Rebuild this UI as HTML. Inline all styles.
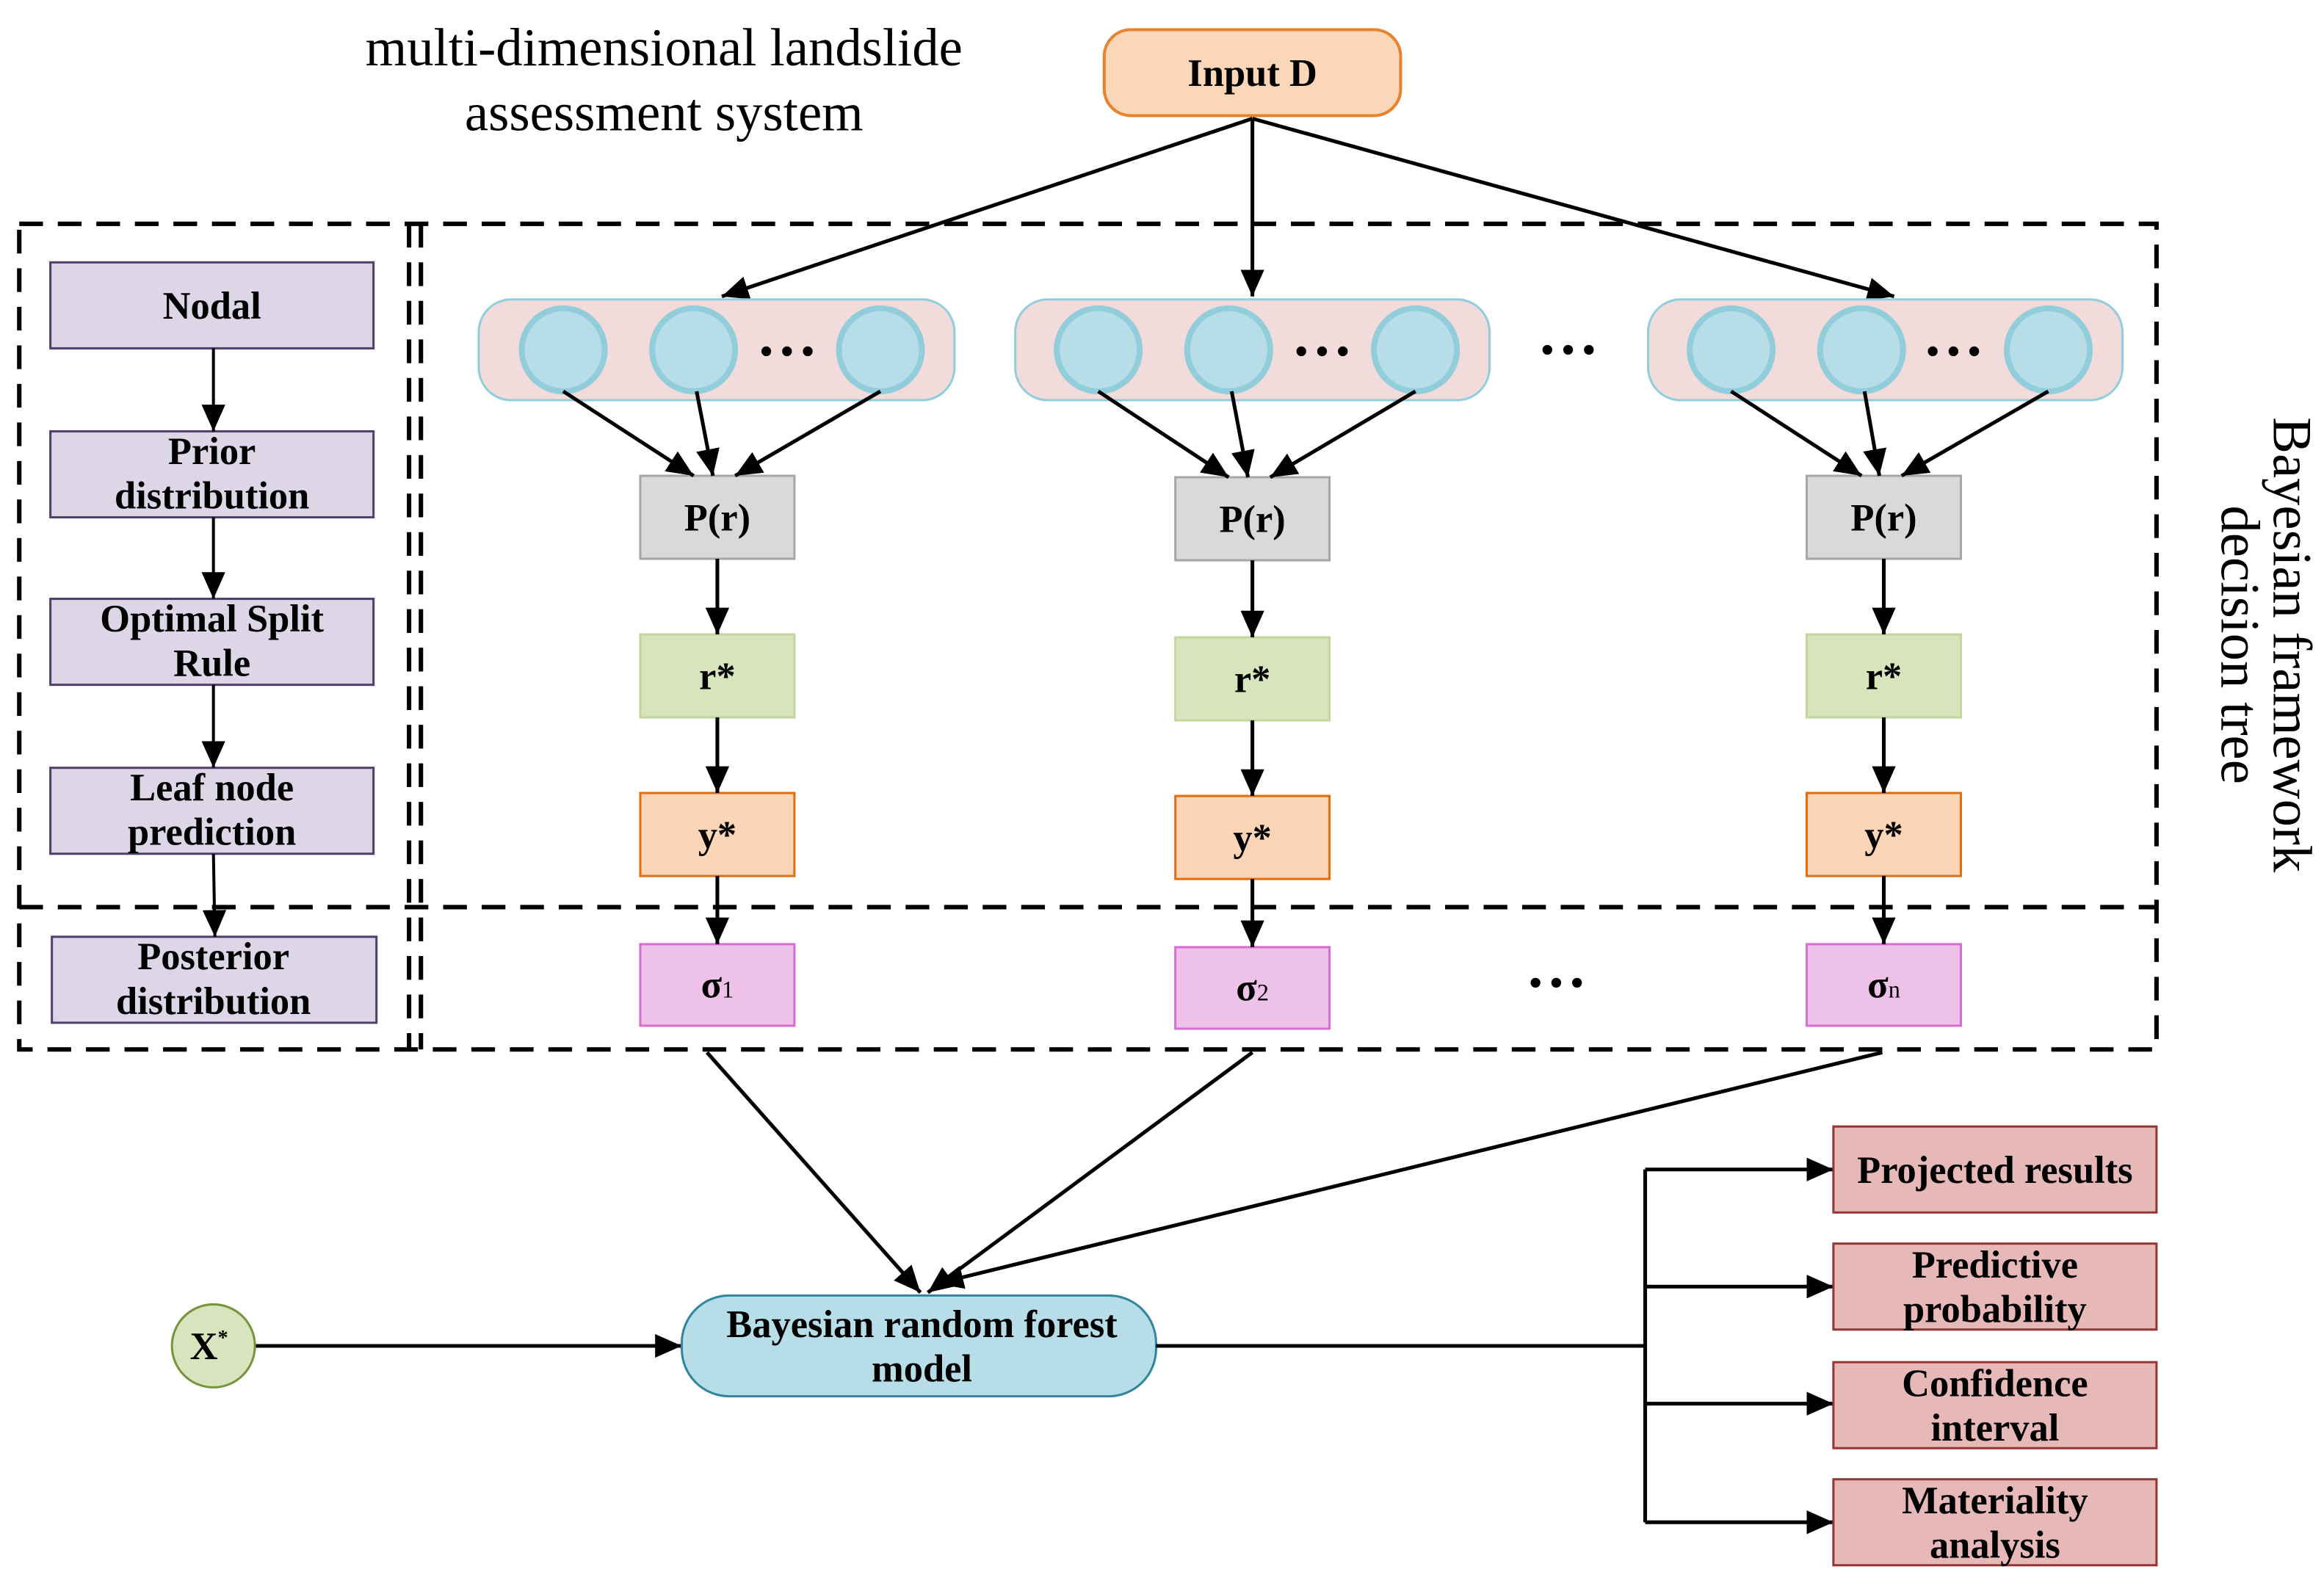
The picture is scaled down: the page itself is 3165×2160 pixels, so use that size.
<!DOCTYPE html>
<html><head><meta charset="utf-8"><style>
html,body{margin:0;padding:0;background:#fff;}
svg{display:block;}
text{font-family:"Liberation Serif",serif;}
.b{font-weight:bold;font-size:26px;text-anchor:middle;}
</style></head><body>
<svg width="3165" height="2160" viewBox="0 0 1568 1070" preserveAspectRatio="none" xmlns="http://www.w3.org/2000/svg">
<defs>
<marker id="a" markerUnits="userSpaceOnUse" markerWidth="20" markerHeight="16" refX="18" refY="8" orient="auto">
<path d="M0,0 L18,8 L0,16 z" fill="#000"/>
</marker>
</defs>
<rect width="1568" height="1070" fill="#fff"/>

<text x="448" y="44" font-size="36" text-anchor="middle">multi-dimensional landslide</text>
<text x="448" y="88" font-size="36" text-anchor="middle">assessment system</text>

<rect x="745" y="20" width="200" height="58" rx="18" fill="#fad7b9" stroke="#e8822f" stroke-width="2"/>
<text class="b" x="845" y="58">Input D</text>

<g stroke="#000" stroke-width="2.5" fill="none" marker-end="url(#a)">
<line x1="845" y1="80" x2="487" y2="200"/>
<line x1="845" y1="80" x2="845" y2="200"/>
<line x1="845" y1="80" x2="1278" y2="200"/>
</g>

<g stroke="#000" stroke-width="3" fill="none" stroke-dasharray="16 10">
<rect x="13" y="151" width="1442" height="557"/>
<line x1="13" y1="612" x2="1455" y2="612"/>
<line x1="276" y1="151" x2="276" y2="708"/>
<line x1="284" y1="151" x2="284" y2="708"/>
</g>

<g fill="#dcd6e6" stroke="#4f3f6b" stroke-width="1.5">
<rect x="34" y="177" width="218" height="58"/>
<rect x="34" y="291" width="218" height="58"/>
<rect x="34" y="404" width="218" height="58"/>
<rect x="34" y="518" width="218" height="58"/>
<rect x="35" y="632" width="219" height="58"/>
</g>
<text class="b" x="143" y="215">Nodal</text>
<text class="b" x="143" y="313">Prior</text>
<text class="b" x="143" y="343">distribution</text>
<text class="b" x="143" y="426">Optimal Split</text>
<text class="b" x="143" y="456">Rule</text>
<text class="b" x="143" y="540">Leaf node</text>
<text class="b" x="143" y="570">prediction</text>
<text class="b" x="144" y="654">Posterior</text>
<text class="b" x="144" y="684">distribution</text>
<g stroke="#000" stroke-width="2" marker-end="url(#a)">
<line x1="144" y1="235" x2="144" y2="291"/>
<line x1="144" y1="349" x2="144" y2="404"/>
<line x1="144" y1="462" x2="144" y2="518"/>
<line x1="144" y1="576" x2="145" y2="632"/>
</g>

<g fill="#f2dcdb" stroke="#92cddc" stroke-width="1.5">
<rect x="323" y="202" width="321" height="68" rx="22"/>
<rect x="685" y="202" width="320" height="68" rx="22"/>
<rect x="1112" y="202" width="320" height="68" rx="22"/>
</g>
<g fill="#b7dde8" stroke="#92cddc" stroke-width="4">
<ellipse cx="380" cy="236" rx="28" ry="28"/>
<ellipse cx="468" cy="236" rx="28" ry="28"/>
<ellipse cx="594" cy="236" rx="28" ry="28"/>
<ellipse cx="741" cy="236" rx="28" ry="28"/>
<ellipse cx="829" cy="236" rx="28" ry="28"/>
<ellipse cx="955" cy="236" rx="28" ry="28"/>
<ellipse cx="1168" cy="236" rx="28" ry="28"/>
<ellipse cx="1256" cy="236" rx="28" ry="28"/>
<ellipse cx="1382" cy="236" rx="28" ry="28"/>
</g>
<g fill="#000">
<circle cx="517" cy="237" r="3.3"/><circle cx="531" cy="237" r="3.3"/><circle cx="545" cy="237" r="3.3"/>
<circle cx="878" cy="237" r="3.3"/><circle cx="892" cy="237" r="3.3"/><circle cx="906" cy="237" r="3.3"/>
<circle cx="1304" cy="237" r="3.3"/><circle cx="1318" cy="237" r="3.3"/><circle cx="1332" cy="237" r="3.3"/>
<circle cx="1044" cy="236" r="3.3"/><circle cx="1058" cy="236" r="3.3"/><circle cx="1072" cy="236" r="3.3"/>
<circle cx="1036" cy="663" r="3.3"/><circle cx="1050" cy="663" r="3.3"/><circle cx="1064" cy="663" r="3.3"/>
</g>

<g stroke-width="1.5">
<rect x="432" y="321" width="104" height="56" fill="#d9d9d9" stroke="#a6a6a6"/>
<rect x="793" y="322" width="104" height="56" fill="#d9d9d9" stroke="#a6a6a6"/>
<rect x="1219" y="321" width="104" height="56" fill="#d9d9d9" stroke="#a6a6a6"/>
<rect x="432" y="428" width="104" height="56" fill="#d8e4bc" stroke="#c3d69b"/>
<rect x="793" y="430" width="104" height="56" fill="#d8e4bc" stroke="#c3d69b"/>
<rect x="1219" y="428" width="104" height="56" fill="#d8e4bc" stroke="#c3d69b"/>
<rect x="432" y="535" width="104" height="56" fill="#fbd5b5" stroke="#e46c0a"/>
<rect x="793" y="537" width="104" height="56" fill="#fbd5b5" stroke="#e46c0a"/>
<rect x="1219" y="535" width="104" height="56" fill="#fbd5b5" stroke="#e46c0a"/>
<rect x="432" y="637" width="104" height="55" fill="#eec2e8" stroke="#d86ccf"/>
<rect x="793" y="639" width="104" height="55" fill="#eec2e8" stroke="#d86ccf"/>
<rect x="1219" y="637" width="104" height="55" fill="#eec2e8" stroke="#d86ccf"/>
</g>
<text class="b" x="484" y="358">P(r)</text>
<text class="b" x="845" y="359">P(r)</text>
<text class="b" x="1271" y="358">P(r)</text>
<text class="b" x="484" y="465">r*</text>
<text class="b" x="845" y="467">r*</text>
<text class="b" x="1271" y="465">r*</text>
<text class="b" x="484" y="572">y*</text>
<text class="b" x="845" y="574">y*</text>
<text class="b" x="1271" y="572">y*</text>
<text class="b" x="484" y="673">σ<tspan font-size="16" font-weight="normal">1</tspan></text>
<text class="b" x="845" y="675">σ<tspan font-size="16" font-weight="normal">2</tspan></text>
<text class="b" x="1271" y="673">σ<tspan font-size="16" font-weight="normal">n</tspan></text>

<g stroke="#000" stroke-width="2.5" marker-end="url(#a)">
<line x1="380" y1="264" x2="468" y2="321"/>
<line x1="470" y1="264" x2="481" y2="321"/>
<line x1="594" y1="264" x2="496" y2="321"/>
<line x1="741" y1="264" x2="829" y2="322"/>
<line x1="831" y1="264" x2="842" y2="322"/>
<line x1="955" y1="264" x2="857" y2="322"/>
<line x1="1168" y1="264" x2="1256" y2="321"/>
<line x1="1258" y1="264" x2="1268" y2="321"/>
<line x1="1382" y1="264" x2="1283" y2="321"/>
<line x1="484" y1="377" x2="484" y2="428"/>
<line x1="845" y1="378" x2="845" y2="430"/>
<line x1="1271" y1="377" x2="1271" y2="428"/>
<line x1="484" y1="484" x2="484" y2="535"/>
<line x1="845" y1="486" x2="845" y2="537"/>
<line x1="1271" y1="484" x2="1271" y2="535"/>
<line x1="484" y1="591" x2="484" y2="637"/>
<line x1="845" y1="593" x2="845" y2="639"/>
<line x1="1271" y1="591" x2="1271" y2="637"/>
<line x1="477" y1="710" x2="621" y2="872"/>
<line x1="845" y1="710" x2="626" y2="872"/>
<line x1="1270" y1="710" x2="632" y2="866"/>
<line x1="172" y1="908" x2="460" y2="908"/>
</g>

<rect x="460" y="874" width="320" height="68" rx="32" fill="#b7dde8" stroke="#31859c" stroke-width="1.5"/>
<text class="b" x="622" y="902">Bayesian random forest</text>
<text class="b" x="622" y="932">model</text>

<circle cx="144" cy="908" r="28" fill="#d7e4bd" stroke="#77933c" stroke-width="1.5"/>
<text class="b" x="141" y="917">X<tspan font-size="14" dy="-10">*</tspan></text>

<g stroke="#000" stroke-width="2.5" fill="none">
<line x1="780" y1="908" x2="1110" y2="908"/>
<line x1="1110" y1="789" x2="1110" y2="1027"/>
</g>
<g stroke="#000" stroke-width="2.5" marker-end="url(#a)">
<line x1="1110" y1="789" x2="1237" y2="789"/>
<line x1="1110" y1="868" x2="1237" y2="868"/>
<line x1="1110" y1="947" x2="1237" y2="947"/>
<line x1="1110" y1="1027" x2="1237" y2="1027"/>
</g>
<g fill="#e6b9b8" stroke="#943634" stroke-width="1.5">
<rect x="1237" y="760" width="218" height="58"/>
<rect x="1237" y="839" width="218" height="58"/>
<rect x="1237" y="919" width="218" height="58"/>
<rect x="1237" y="998" width="218" height="58"/>
</g>
<text class="b" x="1346" y="798">Projected results</text>
<text class="b" x="1346" y="862">Predictive</text>
<text class="b" x="1346" y="892">probability</text>
<text class="b" x="1346" y="942">Confidence</text>
<text class="b" x="1346" y="972">interval</text>
<text class="b" x="1346" y="1021">Materiality</text>
<text class="b" x="1346" y="1051">analysis</text>

<text transform="translate(1534,435) rotate(90)" font-size="37" text-anchor="middle">Bayesian framework</text>
<text transform="translate(1499,435) rotate(90)" font-size="37" text-anchor="middle">decision tree</text>
</svg>
</body></html>
